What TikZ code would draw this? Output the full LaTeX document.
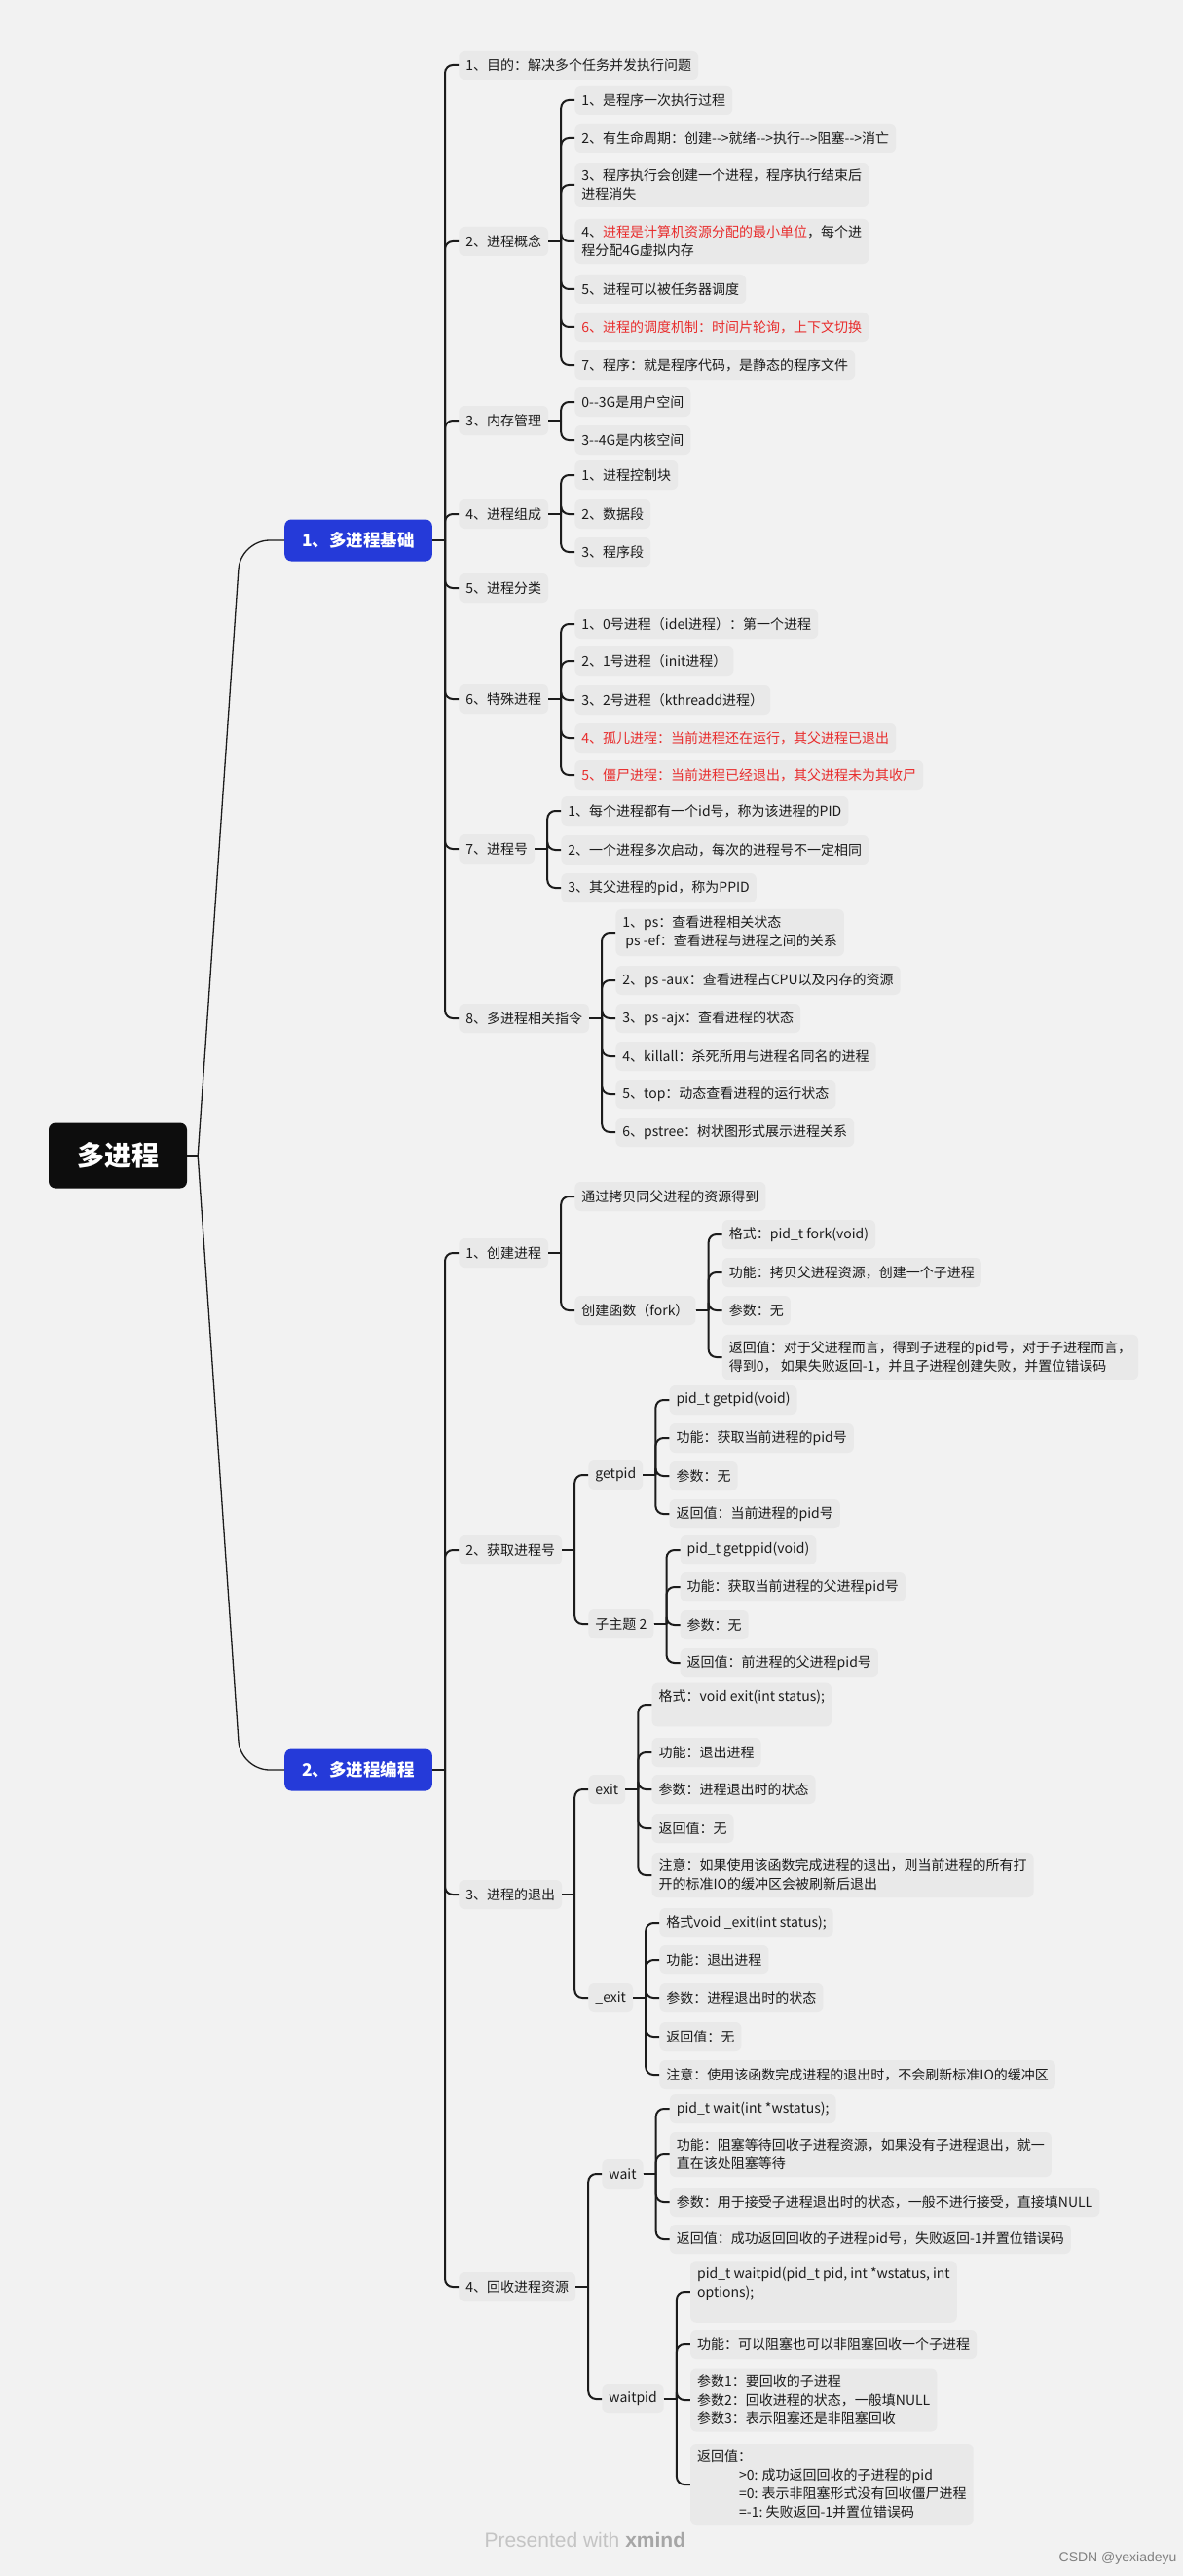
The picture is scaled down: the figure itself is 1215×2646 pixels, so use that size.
\documentclass[tikz,border=0pt]{standalone}
\usepackage{fontspec}
\setmainfont{Noto Sans CJK SC}
\newfontfamily\wmfont{Liberation Sans}
\usetikzlibrary{calc}
\definecolor{paper}{RGB}{242,242,242}
\definecolor{leafbg}{RGB}{233,233,233}
\definecolor{ink}{RGB}{28,28,28}
\definecolor{hot}{RGB}{232,45,45}
\definecolor{topicblue}{RGB}{37,58,217}
\definecolor{rootblack}{RGB}{13,13,13}
\definecolor{wmgray}{RGB}{196,196,196}

\begin{document}
\begin{tikzpicture}[x=1pt, y=-1pt,
  leaf/.style={anchor=west, fill=leafbg, text=ink, rounded corners=6pt, inner xsep=7pt, inner ysep=7pt,
    minimum height=30pt, align=left, font=\fontsize{14}{19}\selectfont},
  topic/.style={anchor=west, fill=topicblue, text=white, rounded corners=7pt, inner xsep=18pt,
    minimum height=43pt, font=\bfseries\fontsize{17.5}{20}\selectfont},
  rootbox/.style={fill=rootblack, text=white, rounded corners=7pt, minimum width=142pt,
    minimum height=67pt, font=\bfseries\fontsize{28}{30}\selectfont},
  conn/.style={draw=ink, line width=2pt},
  thinconn/.style={draw=ink, line width=1.3pt}]

\fill[paper] (0,0) rectangle (1215,2646);
\useasboundingbox (0,0) rectangle (1215,2646);

\node[rootbox] (root) at (121,1187) {多进程};
\node[topic] (m1) at (292,555) {1、多进程基础};
\node[topic] (m2) at (292,1818) {2、多进程编程};

\draw[thinconn] (root.east) -- ++(11,0);
\draw[thinconn, rounded corners=30pt] ([xshift=11pt]root.east) -- (247,555) -- (m1.west);
\draw[thinconn, rounded corners=30pt] ([xshift=11pt]root.east) -- (247,1818) -- (m2.west);

\node[leaf] (a1) at ([xshift=27pt]m1.east |- 0,67) {1、目的：解决多个任务并发执行问题};
\node[leaf] (a2) at ([xshift=27pt]m1.east |- 0,248) {2、进程概念};
\node[leaf] (a3) at ([xshift=27pt]m1.east |- 0,432) {3、内存管理};
\node[leaf] (a4) at ([xshift=27pt]m1.east |- 0,528) {4、进程组成};
\node[leaf] (a5) at ([xshift=27pt]m1.east |- 0,604) {5、进程分类};
\node[leaf] (a6) at ([xshift=27pt]m1.east |- 0,718) {6、特殊进程};
\node[leaf] (a7) at ([xshift=27pt]m1.east |- 0,872) {7、进程号};
\node[leaf] (a8) at ([xshift=27pt]m1.east |- 0,1046) {8、多进程相关指令};

\node[leaf] (a21) at ([xshift=27pt]a2.east |- 0,103) {1、是程序一次执行过程};
\node[leaf] (a22) at ([xshift=27pt]a2.east |- 0,142) {2、有生命周期：创建-{}-{}>就绪-{}-{}>执行-{}-{}>阻塞-{}-{}>消亡};
\node[leaf] (a23) at ([xshift=27pt]a2.east |- 0,190) {3、程序执行会创建一个进程，程序执行结束后\\进程消失};
\node[leaf] (a24) at ([xshift=27pt]a2.east |- 0,248) {4、\textcolor{hot}{进程是计算机资源分配的最小单位}，每个进\\程分配4G虚拟内存};
\node[leaf] (a25) at ([xshift=27pt]a2.east |- 0,297) {5、进程可以被任务器调度};
\node[leaf, text=hot] (a26) at ([xshift=27pt]a2.east |- 0,336) {6、进程的调度机制：时间片轮询，上下文切换};
\node[leaf] (a27) at ([xshift=27pt]a2.east |- 0,375) {7、程序：就是程序代码，是静态的程序文件};

\node[leaf] (a31) at ([xshift=27pt]a3.east |- 0,413) {0-{}-{}3G是用户空间};
\node[leaf] (a32) at ([xshift=27pt]a3.east |- 0,452) {3-{}-{}4G是内核空间};

\node[leaf] (a41) at ([xshift=27pt]a4.east |- 0,488) {1、进程控制块};
\node[leaf] (a42) at ([xshift=27pt]a4.east |- 0,528) {2、数据段};
\node[leaf] (a43) at ([xshift=27pt]a4.east |- 0,567) {3、程序段};

\node[leaf] (a61) at ([xshift=27pt]a6.east |- 0,641) {1、0号进程（idel进程）：第一个进程};
\node[leaf] (a62) at ([xshift=27pt]a6.east |- 0,679) {2、1号进程（init进程）};
\node[leaf] (a63) at ([xshift=27pt]a6.east |- 0,719) {3、2号进程（kthreadd进程）};
\node[leaf, text=hot] (a64) at ([xshift=27pt]a6.east |- 0,758) {4、孤儿进程：当前进程还在运行，其父进程已退出};
\node[leaf, text=hot] (a65) at ([xshift=27pt]a6.east |- 0,796) {5、僵尸进程：当前进程已经退出，其父进程未为其收尸};

\node[leaf] (a71) at ([xshift=27pt]a7.east |- 0,833) {1、每个进程都有一个id号，称为该进程的PID};
\node[leaf] (a72) at ([xshift=27pt]a7.east |- 0,873) {2、一个进程多次启动，每次的进程号不一定相同};
\node[leaf] (a73) at ([xshift=27pt]a7.east |- 0,912) {3、其父进程的pid，称为PPID};

\node[leaf] (a81) at ([xshift=27pt]a8.east |- 0,958) {1、ps：查看进程相关状态\\\hspace*{3pt}ps -ef：查看进程与进程之间的关系};
\node[leaf] (a82) at ([xshift=27pt]a8.east |- 0,1007) {2、ps -aux：查看进程占CPU以及内存的资源};
\node[leaf] (a83) at ([xshift=27pt]a8.east |- 0,1046) {3、ps -ajx：查看进程的状态};
\node[leaf] (a84) at ([xshift=27pt]a8.east |- 0,1085) {4、killall：杀死所用与进程名同名的进程};
\node[leaf] (a85) at ([xshift=27pt]a8.east |- 0,1124) {5、top：动态查看进程的运行状态};
\node[leaf] (a86) at ([xshift=27pt]a8.east |- 0,1163) {6、pstree：树状图形式展示进程关系};

\node[leaf] (b1) at ([xshift=27pt]m2.east |- 0,1287) {1、创建进程};
\node[leaf] (b2) at ([xshift=27pt]m2.east |- 0,1592) {2、获取进程号};
\node[leaf] (b3) at ([xshift=27pt]m2.east |- 0,1946) {3、进程的退出};
\node[leaf] (b4) at ([xshift=27pt]m2.east |- 0,2349) {4、回收进程资源};

\node[leaf] (b11) at ([xshift=27pt]b1.east |- 0,1229) {通过拷贝同父进程的资源得到};
\node[leaf] (b12) at ([xshift=27pt]b1.east |- 0,1346) {创建函数（fork）};
\node[leaf] (b121) at ([xshift=27pt]b12.east |- 0,1268) {格式：pid\_t fork(void)};
\node[leaf] (b122) at ([xshift=27pt]b12.east |- 0,1307) {功能：拷贝父进程资源，创建一个子进程};
\node[leaf] (b123) at ([xshift=27pt]b12.east |- 0,1346) {参数：无};
\node[leaf] (b124) at ([xshift=27pt]b12.east |- 0,1394) {返回值：对于父进程而言，得到子进程的pid号，对于子进程而言，\\得到0， 如果失败返回-1，并且子进程创建失败，并置位错误码};

\node[leaf] (b21) at ([xshift=27pt]b2.east |- 0,1515) {getpid};
\node[leaf] (b22) at ([xshift=27pt]b2.east |- 0,1668) {子主题 2};
\node[leaf] (b211) at ([xshift=27pt]b21.east |- 0,1438) {pid\_t getpid(void)};
\node[leaf] (b212) at ([xshift=27pt]b21.east |- 0,1477) {功能：获取当前进程的pid号};
\node[leaf] (b213) at ([xshift=27pt]b21.east |- 0,1516) {参数：无};
\node[leaf] (b214) at ([xshift=27pt]b21.east |- 0,1555) {返回值：当前进程的pid号};
\node[leaf] (b221) at ([xshift=27pt]b22.east |- 0,1592) {pid\_t getppid(void)};
\node[leaf] (b222) at ([xshift=27pt]b22.east |- 0,1630) {功能：获取当前进程的父进程pid号};
\node[leaf] (b223) at ([xshift=27pt]b22.east |- 0,1669) {参数：无};
\node[leaf] (b224) at ([xshift=27pt]b22.east |- 0,1708) {返回值：前进程的父进程pid号};

\node[leaf] (b31) at ([xshift=27pt]b3.east |- 0,1838) {exit};
\node[leaf] (b32) at ([xshift=27pt]b3.east |- 0,2052) {\_exit};
\node[leaf] (b311) at ([xshift=27pt]b31.east |- 0,1751) {格式：void exit(int status);\\\mbox{}};
\node[leaf] (b312) at ([xshift=27pt]b31.east |- 0,1800) {功能：退出进程};
\node[leaf] (b313) at ([xshift=27pt]b31.east |- 0,1838) {参数：进程退出时的状态};
\node[leaf] (b314) at ([xshift=27pt]b31.east |- 0,1878) {返回值：无};
\node[leaf] (b315) at ([xshift=27pt]b31.east |- 0,1926) {注意：如果使用该函数完成进程的退出，则当前进程的所有打\\开的标准IO的缓冲区会被刷新后退出};
\node[leaf] (b321) at ([xshift=27pt]b32.east |- 0,1975) {格式void \_exit(int status);};
\node[leaf] (b322) at ([xshift=27pt]b32.east |- 0,2013) {功能：退出进程};
\node[leaf] (b323) at ([xshift=27pt]b32.east |- 0,2052) {参数：进程退出时的状态};
\node[leaf] (b324) at ([xshift=27pt]b32.east |- 0,2092) {返回值：无};
\node[leaf] (b325) at ([xshift=27pt]b32.east |- 0,2131) {注意：使用该函数完成进程的退出时，不会刷新标准IO的缓冲区};

\node[leaf] (b41) at ([xshift=27pt]b4.east |- 0,2233) {wait};
\node[leaf] (b42) at ([xshift=27pt]b4.east |- 0,2464) {waitpid};
\node[leaf] (b411) at ([xshift=27pt]b41.east |- 0,2166) {pid\_t wait(int *wstatus);};
\node[leaf] (b412) at ([xshift=27pt]b41.east |- 0,2213) {功能：阻塞等待回收子进程资源，如果没有子进程退出，就一\\直在该处阻塞等待};
\node[leaf] (b413) at ([xshift=27pt]b41.east |- 0,2262) {参数：用于接受子进程退出时的状态，一般不进行接受，直接填NULL};
\node[leaf] (b414) at ([xshift=27pt]b41.east |- 0,2300) {返回值：成功返回回收的子进程pid号，失败返回-1并置位错误码};
\node[leaf] (b421) at ([xshift=27pt]b42.east |- 0,2354) {pid\_t waitpid(pid\_t pid, int *wstatus, int\\options);\\\mbox{}};
\node[leaf] (b422) at ([xshift=27pt]b42.east |- 0,2408) {功能：可以阻塞也可以非阻塞回收一个子进程};
\node[leaf] (b423) at ([xshift=27pt]b42.east |- 0,2465) {参数1：要回收的子进程\\参数2：回收进程的状态，一般填NULL\\参数3：表示阻塞还是非阻塞回收};
\node[leaf] (b424) at ([xshift=27pt]b42.east |- 0,2552) {返回值：\\\hspace*{43pt}>0: 成功返回回收的子进程的pid\\\hspace*{43pt}=0: 表示非阻塞形式没有回收僵尸进程\\\hspace*{43pt}=-1:\ 失败返回-1并置位错误码};

\foreach \p/\c in {m1/a1,m1/a2,m1/a3,m1/a4,m1/a5,m1/a6,m1/a7,m1/a8,
    a2/a21,a2/a22,a2/a23,a2/a24,a2/a25,a2/a26,a2/a27,a3/a31,a3/a32,
    a4/a41,a4/a42,a4/a43,a6/a61,a6/a62,a6/a63,a6/a64,a6/a65,
    a7/a71,a7/a72,a7/a73,a8/a81,a8/a82,a8/a83,a8/a84,a8/a85,a8/a86,
    m2/b1,m2/b2,m2/b3,m2/b4,b1/b11,b1/b12,b12/b121,b12/b122,b12/b123,b12/b124,
    b2/b21,b2/b22,b21/b211,b21/b212,b21/b213,b21/b214,b22/b221,b22/b222,b22/b223,b22/b224,
    b3/b31,b3/b32,b31/b311,b31/b312,b31/b313,b31/b314,b31/b315,
    b32/b321,b32/b322,b32/b323,b32/b324,b32/b325,
    b4/b41,b4/b42,b41/b411,b41/b412,b41/b413,b41/b414,b42/b421,b42/b422,b42/b423,b42/b424}{
  \draw[conn] (\p.east) -- ++(13,0);
  \draw[conn, rounded corners=8pt] ([xshift=13pt]\p.east) |- (\c.west);
}

\node[anchor=west, text=wmgray, font=\wmfont\fontsize{21}{24}\selectfont] (xmind) at (494,2609) {Presented with \textcolor{gray!70}{\textbf{xmind}}};
\node[anchor=east, text=gray, font=\wmfont\fontsize{14}{16}\selectfont] (csdn) at (1212,2628) {CSDN @yexiadeyu};
\end{tikzpicture}
\end{document}
